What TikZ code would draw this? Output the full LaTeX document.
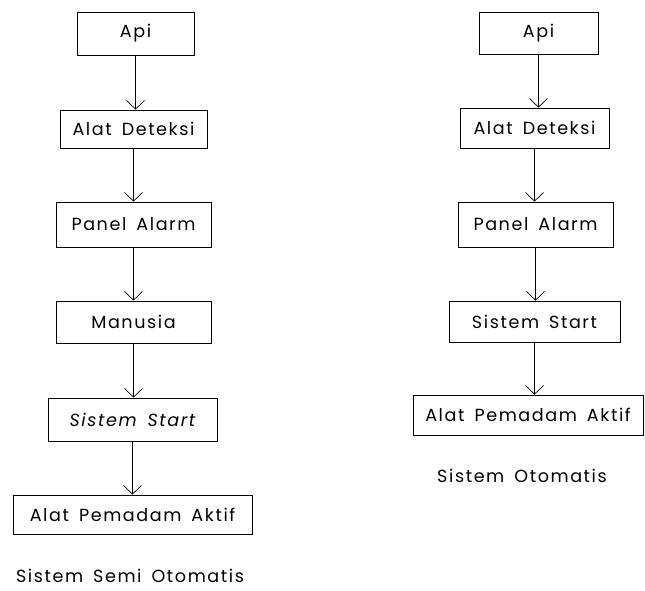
\documentclass[tikz,border=0pt]{standalone}
\usepackage{tikz}
\usepackage{xcolor}
\usepackage{fontspec}
\setmainfont{Poppins}[LetterSpace=9, WordSpace=1.6]
\usetikzlibrary{arrows.meta}

\tikzset{
  box/.style={draw, line width=0.6pt, inner sep=0pt, font=\fontsize{15}{17}\selectfont},
  flow/.style={line width=0.6pt, -{Straight Barb[length=2.6mm, width=5.4mm, line width=0.6pt]}},
  caption/.style={inner sep=0pt, font=\fontsize{15}{17}\selectfont}
}

\begin{document}
\begin{tikzpicture}[x=0.03cm, y=-0.03cm]
    \useasboundingbox (0,0) rectangle (645,591);

    % semi otomatis
    \node[box, minimum width=3.51cm, minimum height=1.29cm] (apiL) at (135.5,33.5) {Api};
    \node[box, minimum width=4.41cm, minimum height=1.14cm] (detL) at (133.5,129) {Alat Deteksi};
    \node[box, minimum width=4.65cm, minimum height=1.35cm] (panL) at (133.5,224.5) {Panel Alarm};
    \node[box, minimum width=4.65cm, minimum height=1.26cm] (manL) at (133.5,322) {Manusia};
    \node[box, minimum width=5.07cm, minimum height=1.29cm] (staL) at (132.5,419.5) {\itshape Sistem Start};
    \node[box, minimum width=7.17cm, minimum height=1.17cm] (padL) at (132.5,514.5) {Alat Pemadam Aktif};
    \node[caption] (capL) at (130,576) {Sistem Semi Otomatis};

    \draw[flow] (apiL.south) -- (apiL.south |- detL.north);
    \draw[flow] (detL.south) -- (detL.south |- panL.north);
    \draw[flow] (panL.south) -- (panL.south |- manL.north);
    \draw[flow] (manL.south) -- (manL.south |- staL.north);
    \draw[flow] (staL.south) -- (staL.south |- padL.north);

    % otomatis
    \node[box, minimum width=3.57cm, minimum height=1.26cm] (apiR) at (538.5,33) {Api};
    \node[box, minimum width=4.47cm, minimum height=1.20cm] (detR) at (534.5,128) {Alat Deteksi};
    \node[box, minimum width=4.65cm, minimum height=1.35cm] (panR) at (535.5,224.5) {Panel Alarm};
    \node[box, minimum width=5.13cm, minimum height=1.23cm] (staR) at (534.5,321.5) {Sistem Start};
    \node[box, minimum width=6.90cm, minimum height=1.20cm] (padR) at (528,415) {Alat Pemadam Aktif};
    \node[caption] (capR) at (522,476) {Sistem Otomatis};

    \draw[flow] (apiR.south) -- (apiR.south |- detR.north);
    \draw[flow] (detR.south) -- (detR.south |- panR.north);
    \draw[flow] (panR.south) -- (panR.south |- staR.north);
    \draw[flow] (staR.south) -- (staR.south |- padR.north);
\end{tikzpicture}
\end{document}
